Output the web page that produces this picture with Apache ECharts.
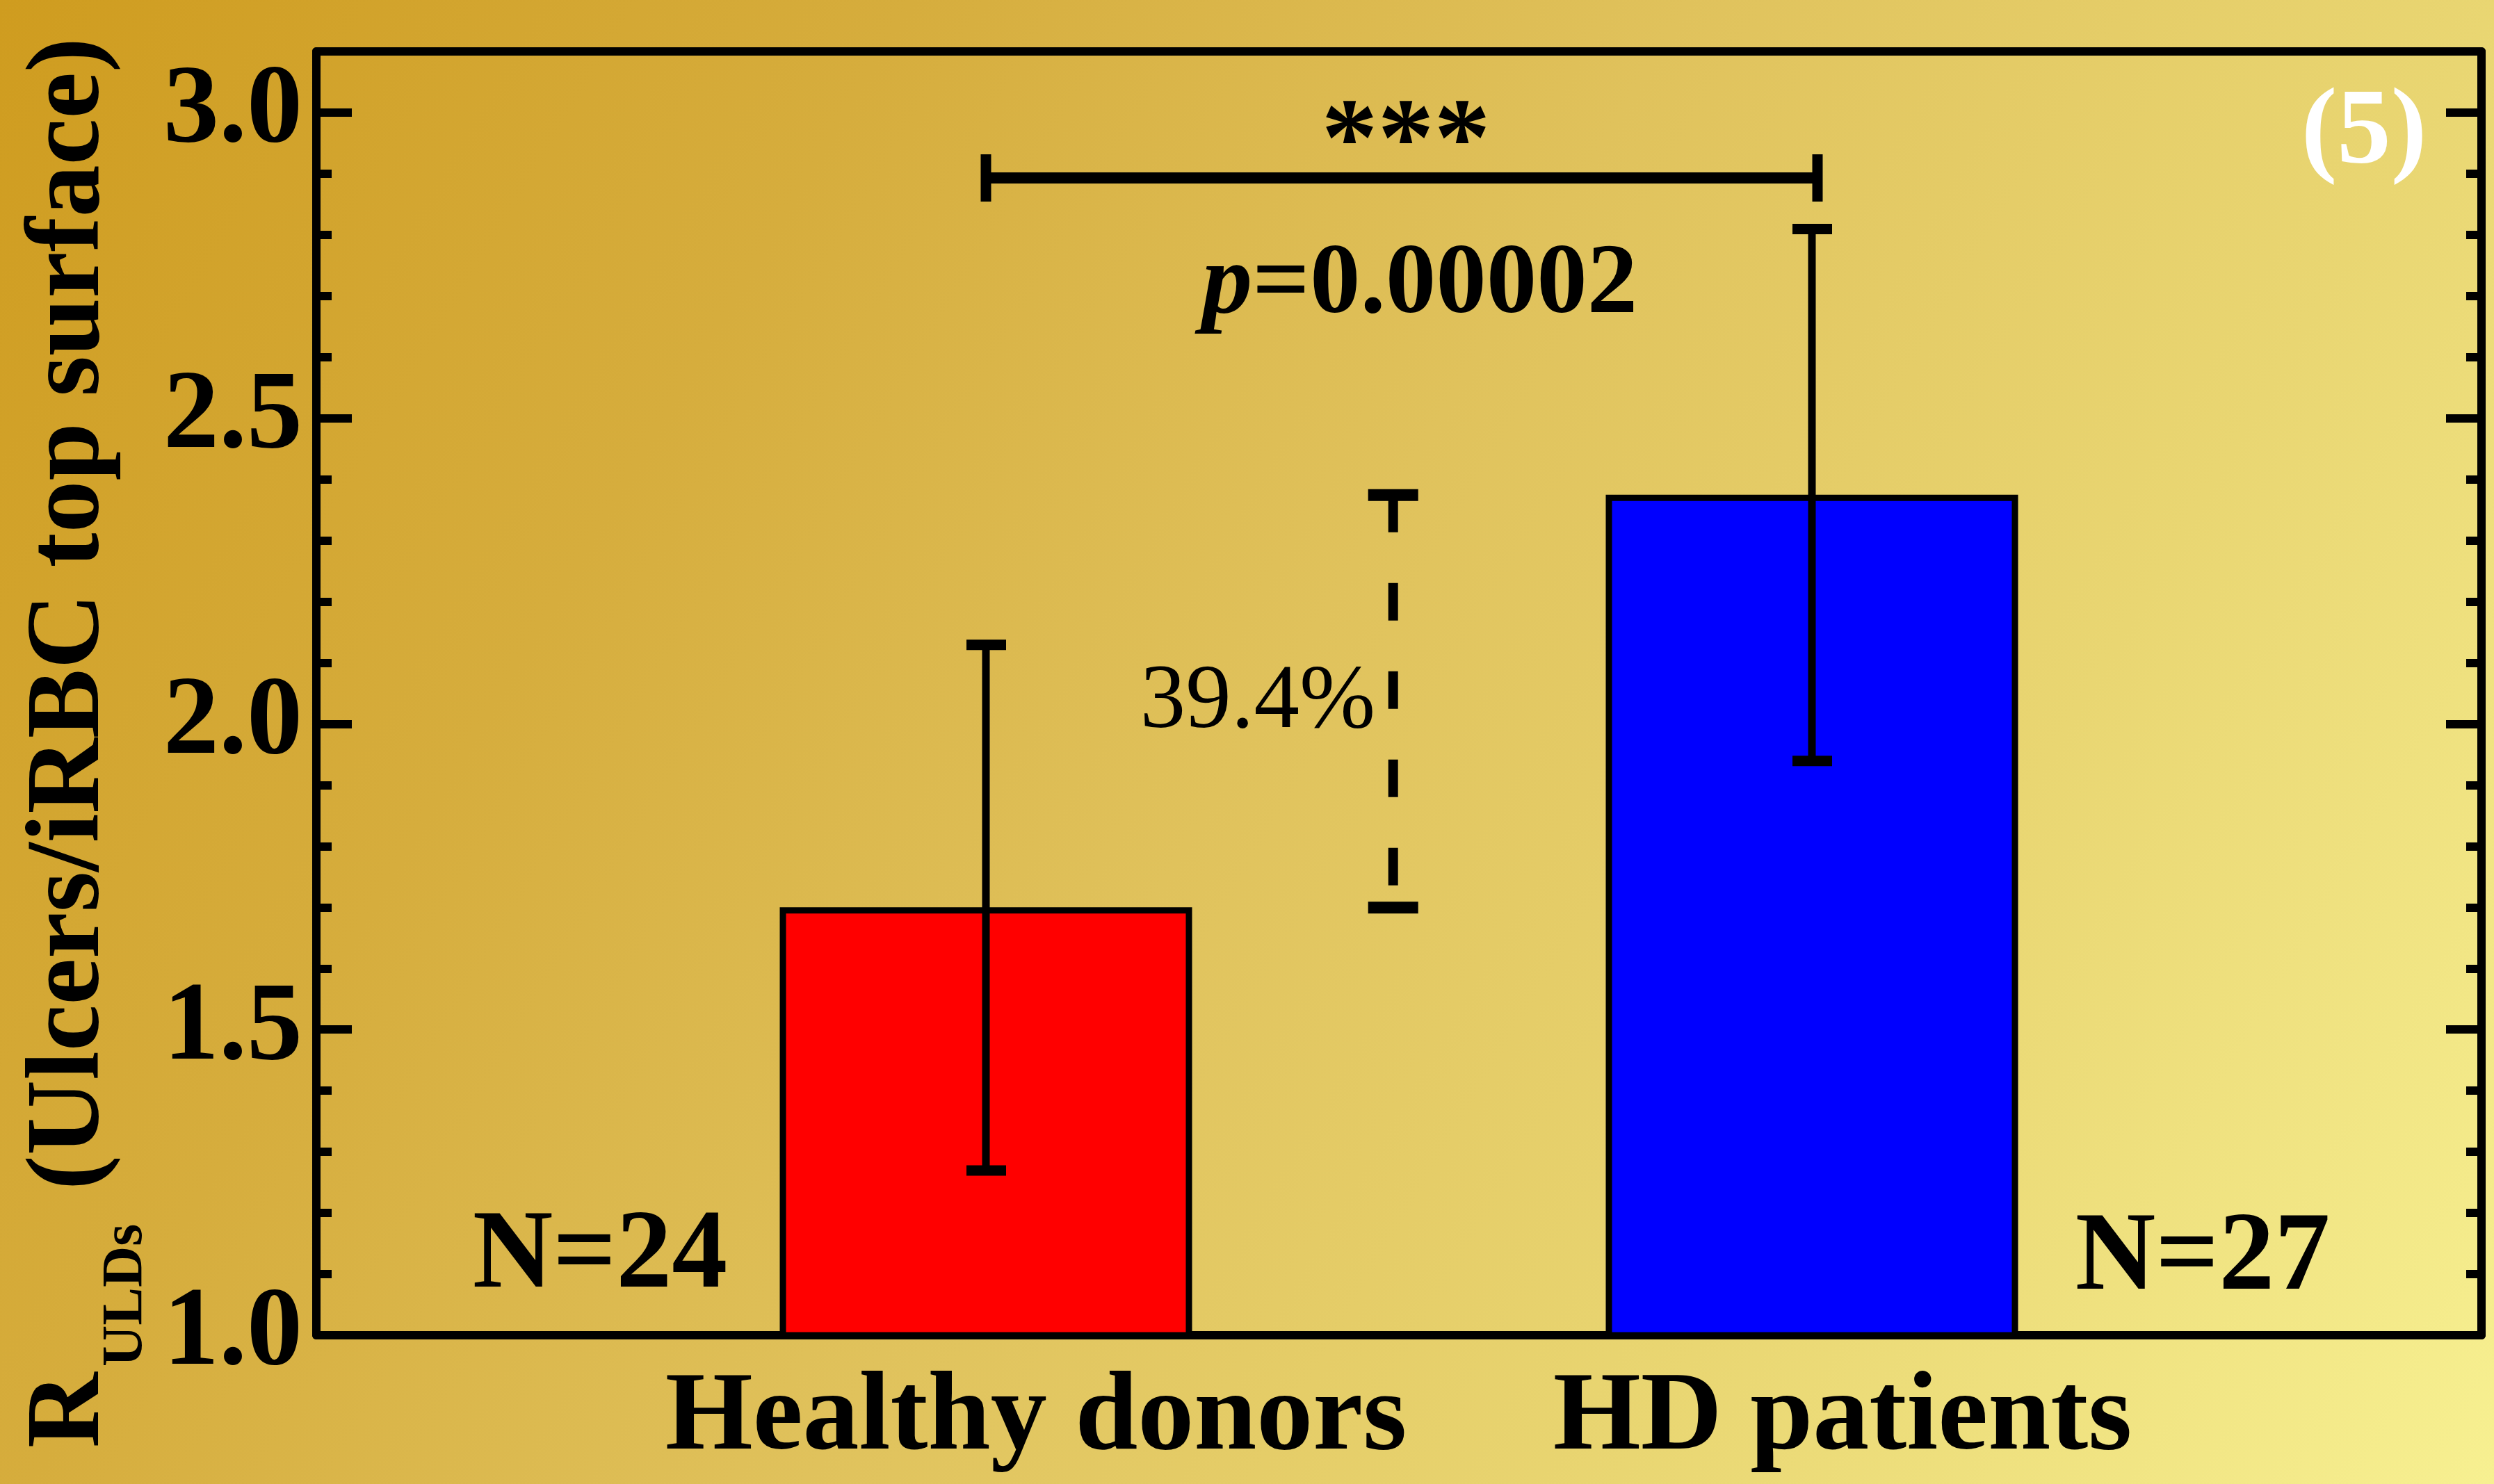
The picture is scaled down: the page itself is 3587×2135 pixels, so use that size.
<!DOCTYPE html>
<html><head><meta charset="utf-8">
<script src="https://cdn.jsdelivr.net/npm/echarts@6/dist/echarts.min.js"></script>
<style>html,body{margin:0;padding:0;background:#fff;} #c{width:3587px;height:2135px;}</style>
</head><body><div id="c"></div>
<script>
// ---- data ----
const categories = ['Healthy donors', 'HD patients'];
const means = [1.70, 2.375];
const errors = [0.43, 0.435];
const sampleLabels = ['N=24', 'N=27'];
const yMin = 1.0, yMax = 3.1, yMajor = 0.5, yMinor = 0.1;
const sigLevel = 2.893;
const sigStars = '***';
const pValue = '0.00002';
const pctText = '39.4%';
const panelText = '(5)';
const yTitleMain = 'R';
const yTitleSub = 'ULDs';
const yTitleRest = '(Ulcers/iRBC top surface)';

// ---- style ----
const barColors = ['#ff0000', '#0000ff'];
const FONT = '"Liberation Serif", "Times New Roman", serif';
const chart = echarts.init(document.getElementById('c'), null, {renderer: 'canvas'});

const G = {left: 455, right: 18, top: 74, bottom: 214};
const frameX = (pos) => ({
  gridIndex: 0, type: 'value', min: 0, max: 1, position: pos,
  axisLine: {show: true, onZero: false, lineStyle: {color: '#000', width: 12}},
  axisTick: {show: false}, axisLabel: {show: false}, splitLine: {show: false}
});
const majorY = (pos, labels) => ({
  gridIndex: 0, type: 'value', min: yMin, max: yMax, interval: yMajor, position: pos,
  axisLine: {show: true, onZero: false, lineStyle: {color: '#000', width: 12}},
  axisTick: {show: true, inside: true, length: 51, lineStyle: {color: '#000', width: 12}},
  axisLabel: {show: labels, showMaxLabel: false, margin: 20, color: '#000',
    fontFamily: FONT, fontWeight: 'bold', fontSize: 160,
    formatter: v => v.toFixed(1)},
  splitLine: {show: false}
});
const minorY = (pos) => ({
  gridIndex: 1, type: 'value', min: yMin, max: yMax, interval: yMinor, position: pos,
  axisLine: {show: false, onZero: false},
  axisTick: {show: true, inside: true, length: 22, lineStyle: {color: '#000', width: 12}},
  axisLabel: {show: false}, splitLine: {show: false}
});

const option = {
  animation: false,
  backgroundColor: {type: 'linear', x: 0, y: 0, x2: 1, y2: 1, colorStops: [
    {offset: 0, color: '#cf9c1f'},
    {offset: 0.27, color: '#d6ad3d'},
    {offset: 0.5, color: '#e0c25c'},
    {offset: 0.74, color: '#e9d672'},
    {offset: 1, color: '#f7f091'}
  ]},
  grid: [
    Object.assign({outerBoundsMode: 'none'}, G),
    Object.assign({outerBoundsMode: 'none'}, G),
    {outerBoundsMode: 'none', left: 824, width: 2376, top: G.top, bottom: G.bottom}
  ],
  xAxis: [
    frameX('bottom'), frameX('top'),
    {gridIndex: 1, type: 'value', min: 0, max: 1, show: false},
    {gridIndex: 2, type: 'category', data: categories,
      axisLine: {show: false}, axisTick: {show: false},
      axisLabel: {interval: 0, hideOverlap: false, margin: 40, color: '#000', fontFamily: FONT, fontWeight: 'bold', fontSize: 162,
        formatter: (v, i) => '{l' + i + '|' + v + '}',
        rich: {
          l0: {fontFamily: FONT, fontWeight: 'bold', fontSize: 162, color: '#000', padding: [0, 0, 0, 144]},
          l1: {fontFamily: FONT, fontWeight: 'bold', fontSize: 162, color: '#000', padding: [0, 0, 0, 88]}
        }}}
  ],
  yAxis: [
    majorY('left', true), majorY('right', false),
    minorY('left'), minorY('right'),
    {gridIndex: 2, type: 'value', min: yMin, max: yMax, show: false}
  ],
  series: [
    {
      type: 'bar', xAxisIndex: 3, yAxisIndex: 4, barWidth: 593, z: 3,
      data: means.map((m, i) => ({value: m, itemStyle: {color: barColors[i], borderColor: '#000', borderWidth: 9}}))
    },
    {
      type: 'custom', xAxisIndex: 3, yAxisIndex: 4, z: 5,
      data: categories.map((c, i) => [i, means[i], errors[i]]),
      encode: {x: 0, y: 1},
      renderItem(params, api) {
        const i = api.value(0), m = api.value(1), e = api.value(2);
        const t = api.coord([i, m + e]), b = api.coord([i, m - e]);
        return {type: 'group', children: [
          {type: 'line', shape: {x1: t[0], y1: t[1], x2: b[0], y2: b[1]}, style: {stroke: '#000', lineWidth: 11}},
          {type: 'rect', shape: {x: t[0] - 28, y: t[1] - 7, width: 57, height: 15}, style: {fill: '#000'}},
          {type: 'rect', shape: {x: b[0] - 28, y: b[1] - 7, width: 57, height: 15}, style: {fill: '#000'}}
        ]};
      }
    },
    {
      type: 'custom', xAxisIndex: 3, yAxisIndex: 4, z: 5,
      data: [[0, 1, sigLevel]],
      encode: {x: [0, 1], y: 2},
      renderItem(params, api) {
        const a = api.coord([api.value(0), api.value(2)]);
        const b = api.coord([api.value(1), api.value(2)]);
        b[0] += 8;
        return {type: 'group', children: [
          {type: 'line', shape: {x1: a[0], y1: a[1], x2: b[0], y2: b[1]}, style: {stroke: '#000', lineWidth: 16}},
          {type: 'line', shape: {x1: a[0], y1: a[1] - 34, x2: a[0], y2: a[1] + 34}, style: {stroke: '#000', lineWidth: 15}},
          {type: 'line', shape: {x1: b[0], y1: b[1] - 34, x2: b[0], y2: b[1] + 34}, style: {stroke: '#000', lineWidth: 15}}
        ]};
      }
    },
    {
      type: 'custom', xAxisIndex: 3, yAxisIndex: 4, z: 5,
      data: [[0, 1, means[0], means[1]]],
      encode: {x: [0, 1], y: [2, 3]},
      renderItem(params, api) {
        const lo = api.coord([api.value(0), api.value(2)]);
        const hi = api.coord([api.value(1), api.value(3)]);
        const x = lo[0] + 0.493 * (hi[0] - lo[0]);
        return {type: 'group', children: [
          {type: 'line', shape: {x1: x, y1: hi[1], x2: x, y2: lo[1]},
            style: {stroke: '#000', lineWidth: 14, lineDash: [54, 73]}},
          {type: 'rect', shape: {x: x - 36, y: hi[1] - 8, width: 72, height: 17}, style: {fill: '#000'}},
          {type: 'rect', shape: {x: x - 36, y: lo[1] - 8, width: 72, height: 17}, style: {fill: '#000'}}
        ]};
      }
    }
  ],
  graphic: [
    {type: 'text', x: 102, y: 2083, rotation: Math.PI / 2, z: 10,
      style: {text: yTitleMain, fill: '#000', font: 'bold 150px ' + FONT, align: 'left', verticalAlign: 'middle'}},
    {type: 'text', x: 182, y: 1966, rotation: Math.PI / 2, z: 10,
      style: {text: yTitleSub, fill: '#000', font: 'bold 82px ' + FONT, align: 'left', verticalAlign: 'middle'}},
    {type: 'text', x: 102, y: 1712, rotation: Math.PI / 2, z: 10,
      style: {text: yTitleRest, fill: '#000', font: 'bold 150px ' + FONT, align: 'left', verticalAlign: 'middle'}},
    {type: 'text', x: 2022, y: 210, z: 10,
      style: {text: sigStars, fill: '#000', font: 'bold 162px ' + FONT, align: 'center', verticalAlign: 'middle'}},
    {type: 'text', x: 2042, y: 412, z: 10,
      style: {text: '{i|p}{b|=' + pValue + '}', align: 'center', verticalAlign: 'middle',
        rich: {
          i: {fill: '#000', fontFamily: FONT, fontStyle: 'italic', fontWeight: 'bold', fontSize: 145},
          b: {fill: '#000', fontFamily: FONT, fontWeight: 'bold', fontSize: 145}
        }}},
    {type: 'text', x: 1978, y: 1012, z: 10,
      style: {text: pctText, fill: '#000', font: '131px ' + FONT, align: 'right', verticalAlign: 'middle'}},
    {type: 'text', x: 863, y: 1810, z: 10,
      style: {text: sampleLabels[0], fill: '#000', font: 'bold 160px ' + FONT, align: 'center', verticalAlign: 'middle'}},
    {type: 'text', x: 3168, y: 1813, z: 10,
      style: {text: sampleLabels[1], fill: '#000', font: 'bold 160px ' + FONT, align: 'center', verticalAlign: 'middle'}},
    {type: 'text', x: 3400, y: 193, z: 10,
      style: {text: panelText, fill: '#ffffff', font: 'bold 155px ' + FONT, align: 'center', verticalAlign: 'middle'}}
  ]
};
chart.setOption(option);
</script></body></html>
